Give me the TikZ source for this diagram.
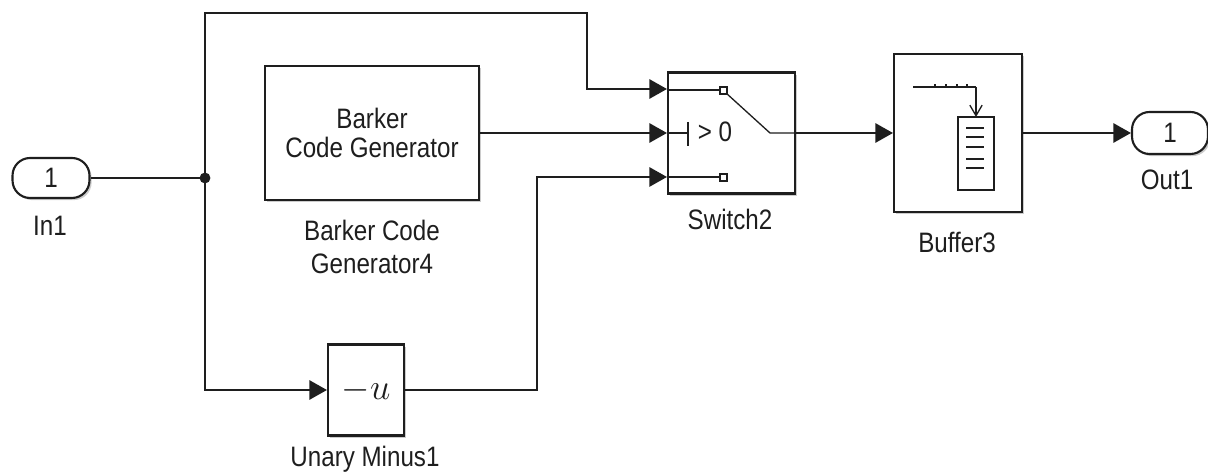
\documentclass[tikz,border=0pt]{standalone}
\usepackage{fontspec}
\setmainfont[FakeStretch=0.86]{Liberation Sans}
\usetikzlibrary{arrows.meta,positioning,calc,shadows}
\definecolor{ink}{HTML}{1E1E1E}
\definecolor{shade}{HTML}{9A9A9A}
\tikzset{
  blk/.style={rectangle,draw=ink,fill=white,line width=1.2pt,inner sep=0pt,
    font=\fontsize{16}{16.5}\selectfont,align=center,text=ink,
    drop shadow={shadow xshift=1.2pt,shadow yshift=-1.2pt,fill=shade,opacity=0.5}},
  pill/.style={blk,rounded corners=10pt},
  lbl/.style={font=\fontsize{16}{18.8}\selectfont,text=ink,align=center,inner sep=0pt},
  sig/.style={-{Triangle[length=10pt,width=11pt]},line width=1pt,color=ink},
  wire/.style={line width=1pt,color=ink},
  glyph/.style={line width=0.75pt,color=ink},
}
\begin{document}
\begin{tikzpicture}[x=0.02cm,y=-0.02cm]
  \useasboundingbox (0,0) rectangle (1208,475);
  \node[pill,minimum width=1.54cm,minimum height=0.8cm] (in1) at (51,178){1};
  \node[blk,minimum width=4.28cm,minimum height=2.68cm] (bark) at (372,133){Barker\\Code Generator};
  \node[blk,minimum width=2.54cm,minimum height=2.42cm] (sw) at (731.5,133){};
  \node[blk,minimum width=2.56cm,minimum height=3.16cm] (buf) at (958,133){};
  \node[pill,minimum width=1.52cm,minimum height=0.84cm] (out1) at (1170,133){1};
  \node[blk,minimum width=1.52cm,minimum height=1.82cm,font=\fontsize{22}{22}\selectfont] (um) at (366,390){$-u$};
  \node[lbl] (in1lbl) at (50,226){In1};
  \node[lbl] (barklbl) at (372,247){Barker Code\\Generator4};
  \node[lbl] (swlbl) at (730,219){Switch2};
  \node[lbl] (buflbl) at (957,242){Buffer3};
  \node[lbl] (out1lbl) at (1167,180){Out1};
  \node[lbl] (umlbl) at (365,459){Unary Minus1};
  \coordinate (j) at (205,178);
  \fill[ink] (j) circle (3.1pt);
  \draw[wire] (in1.east) -- (j);
  \draw[sig] (j) |- (587,13) |- ([yshift=0.88cm]sw.west);
  \draw[sig] (bark.east) -- (sw.west);
  \draw[sig] (j) |- (um.west);
  \draw[sig] (um.east) -- (537,390) |- ([yshift=-0.88cm]sw.west);
  \draw[sig] (sw.east) -- (buf.west);
  \draw[sig] (buf.east) -- (out1.west);
  \draw[glyph] (668,90) -- (720,90);
  \draw[glyph,fill=white] (720,87) rectangle (727,94);
  \draw[glyph] (726,93) -- (770,133) -- (795,133);
  \draw[glyph] (668,133) -- (688,133) (688,122) -- (688,146);
  \node[lbl] (gt) at (715,132){> 0};
  \draw[glyph] (668,177) -- (720,177);
  \draw[glyph,fill=white] (720,174) rectangle (727,181);
  \draw[glyph] (913,87) -- (976,87);
  \foreach \x in {935,946,957,967} \draw[glyph] (\x,87) -- (\x,84);
  \draw[glyph,-{Straight Barb[length=6pt,width=7pt]}] (976,87) -- (976,117);
  \draw[glyph] (958,117) rectangle (994,190);
  \foreach \y in {128,137,147,159,168} \draw[glyph] (966,\y) -- (984,\y);
\end{tikzpicture}
\end{document}
